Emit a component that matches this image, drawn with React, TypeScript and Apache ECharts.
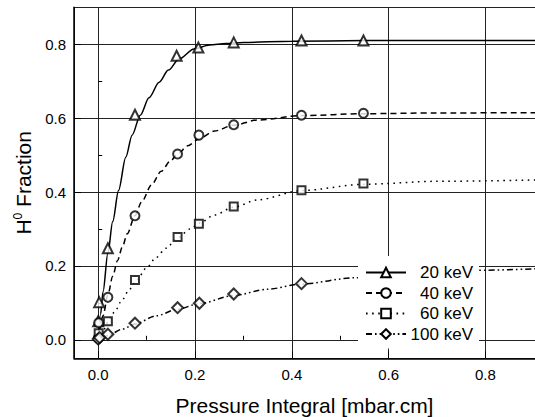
import React, { useEffect, useRef } from "react";
import * as echarts from "echarts";

const FONT = '"Liberation Sans", Arial, Helvetica, sans-serif';

const seriesNames = ["20 keV", "40 keV", "60 keV", "100 keV"];
const minorTickValues = [0.1, 0.3, 0.5, 0.7];

// measured points [pressure integral, H0 fraction]
const meas20 = [[0.0, 0.05], [0.002, 0.102], [0.02, 0.248], [0.076, 0.609], [0.162, 0.769], [0.207, 0.791], [0.28, 0.805], [0.42, 0.81], [0.548, 0.81]];
const meas40 = [[0.0, 0.004], [0.001, 0.046], [0.02, 0.115], [0.076, 0.336], [0.164, 0.503], [0.208, 0.554], [0.28, 0.582], [0.42, 0.608], [0.548, 0.613]];
const meas60 = [[0.001, 0.018], [0.02, 0.05], [0.076, 0.162], [0.164, 0.278], [0.208, 0.314], [0.28, 0.361], [0.42, 0.405], [0.548, 0.423]];
const meas100 = [[0.0, 0.002], [0.003, 0.006], [0.02, 0.015], [0.076, 0.045], [0.164, 0.087], [0.209, 0.099], [0.28, 0.124], [0.42, 0.152]];

// fitted curves
const fitX20 = [0, 0.005, 0.01, 0.02, 0.03, 0.042, 0.057, 0.07, 0.087, 0.105, 0.126, 0.145, 0.167, 0.198, 0.23, 0.264, 0.3, 0.4, 0.55, 0.7, 0.92];
const fitY20 = [0, 0.07, 0.13, 0.235, 0.32, 0.404, 0.494, 0.554, 0.608, 0.655, 0.697, 0.73, 0.76, 0.787, 0.798, 0.802, 0.805, 0.808, 0.81, 0.81, 0.81];
const fitX40 = [0, 0.01, 0.02, 0.03, 0.04, 0.05, 0.06, 0.076, 0.09, 0.11, 0.13, 0.15, 0.164, 0.185, 0.207, 0.24, 0.28, 0.33, 0.42, 0.55, 0.7, 0.92];
const fitY40 = [0, 0.065, 0.122, 0.172, 0.215, 0.252, 0.287, 0.336, 0.374, 0.419, 0.456, 0.485, 0.503, 0.525, 0.543, 0.565, 0.581, 0.595, 0.607, 0.612, 0.614, 0.615];
const fitX60 = [0, 0.01, 0.02, 0.033, 0.05, 0.064, 0.08, 0.1, 0.12, 0.14, 0.164, 0.19, 0.21, 0.24, 0.28, 0.33, 0.42, 0.55, 0.7, 0.92];
const fitY60 = [0, 0.024, 0.047, 0.074, 0.109, 0.136, 0.163, 0.195, 0.223, 0.248, 0.276, 0.3, 0.316, 0.338, 0.359, 0.379, 0.404, 0.421, 0.429, 0.433];
const fitX100 = [0, 0.02, 0.05, 0.076, 0.12, 0.164, 0.209, 0.28, 0.35, 0.42, 0.53, 0.65, 0.78, 0.92];
const fitY100 = [0, 0.012, 0.029, 0.043, 0.065, 0.083, 0.098, 0.12, 0.137, 0.151, 0.168, 0.18, 0.188, 0.193];

const zip = (xs: number[], ys: number[]) => xs.map((x, i) => [x, ys[i]]);

export default function App() {
  const ref = useRef<HTMLDivElement>(null);

  useEffect(() => {
    if (!ref.current) return;
    const chart = echarts.init(ref.current, null, { renderer: "svg" });

    const fits = [zip(fitX20, fitY20), zip(fitX40, fitY40), zip(fitX60, fitY60), zip(fitX100, fitY100)];
    const meas = [meas20, meas40, meas60, meas100];
    const symbols = ["emptyTriangle", "emptyCircle", "emptyRect", "emptyDiamond"];
    const symSizes = [10, 9, 8, 11];
    const dashTypes: any[] = ["solid", [6, 4], [1.6, 4.5], [6, 3, 1.6, 3, 1.6, 3]];

    const series: any[] = [];
    seriesNames.forEach((name, i) => {
      series.push({
        type: "line",
        name,
        data: fits[i],
        smooth: 0.3,
        smoothMonotone: "x",
        showSymbol: false,
        symbol: symbols[i],
        symbolSize: symSizes[i],
        color: "#000",
        itemStyle: { color: "#000", borderWidth: 1 },
        lineStyle: { color: "#000", width: 1.5, type: dashTypes[i] },
        z: 2,
        silent: true,
      });
    });
    seriesNames.forEach((name, i) => {
      series.push({
        type: "scatter",
        name: name + " data",
        data: meas[i],
        symbol: symbols[i],
        symbolSize: symSizes[i],
        itemStyle: { color: "#000", borderWidth: 1 },
        z: 3,
        silent: true,
      });
    });

    const option: any = {
      animation: false,
      backgroundColor: "#fff",
      textStyle: { fontFamily: FONT },
      grid: { left: 74, top: 7.3, width: 484, height: 351, containLabel: false, outerBoundsMode: "none" },
      legend: {
        data: seriesNames,
        orient: "vertical",
        left: 358,
        top: 256,
        backgroundColor: "#fff",
        padding: [8, 6, 6, 7],
        itemWidth: 40,
        itemHeight: 12,
        itemGap: 3.5,
        selectedMode: false,
        formatter: (n: string) => `{t|${n}}`,
        textStyle: {
          color: "#000",
          fontSize: 17,
          fontFamily: FONT,
          rich: { t: { width: 62, align: "right", fontSize: 17, lineHeight: 17, fontFamily: FONT, color: "#000" } },
        },
      },
      xAxis: [
        {
          type: "value",
          min: -0.05,
          max: 0.95,
          position: "bottom",
          name: "Pressure Integral [mbar.cm]",
          nameLocation: "middle",
          nameGap: 37,
          nameTextStyle: { fontSize: 21, color: "#000", fontFamily: FONT, padding: [0, 23, 0, 0] },
          axisLine: { show: true, onZero: false, lineStyle: { color: "#000", width: 1.5 } },
          axisTick: { show: true, inside: true, length: 7, lineStyle: { color: "#000", width: 1 } },
          axisLabel: {
            show: true,
            showMinLabel: false,
            showMaxLabel: false,
            margin: 9,
            fontSize: 15,
            color: "#000",
            fontFamily: FONT,
            formatter: (v: number) => v.toFixed(1),
          },
          splitLine: { show: true, lineStyle: { color: "#222", width: 1 } },
        },
        {
          type: "value",
          min: -0.05,
          max: 0.95,
          position: "bottom",
          axisLine: { show: false },
          axisLabel: { show: false },
          splitLine: { show: false },
          axisTick: { show: true, inside: true, length: 4, customValues: minorTickValues, lineStyle: { color: "#000", width: 1 } },
        },
      ],
      yAxis: [
        {
          type: "value",
          min: -0.05,
          max: 0.9,
          position: "left",
          name: "{n|H}{s|0}{n| Fraction}",
          nameLocation: "middle",
          nameGap: 40,
          nameTextStyle: {
            color: "#000",
            fontFamily: FONT,
            fontSize: 21,
            rich: {
              n: { fontSize: 21, fontFamily: FONT, color: "#000", lineHeight: 22 },
              s: { fontSize: 12, fontFamily: FONT, color: "#000", verticalAlign: "top", lineHeight: 22 },
            },
          },
          axisLine: { show: true, onZero: false, lineStyle: { color: "#000", width: 1.5 } },
          axisTick: { show: true, inside: true, length: 7, lineStyle: { color: "#000", width: 1 } },
          axisLabel: {
            show: true,
            showMinLabel: false,
            showMaxLabel: false,
            margin: 8,
            fontSize: 15,
            color: "#000",
            fontFamily: FONT,
            formatter: (v: number) => v.toFixed(1),
          },
          splitLine: { show: true, lineStyle: { color: "#222", width: 1 } },
        },
        {
          type: "value",
          min: -0.05,
          max: 0.9,
          position: "left",
          axisLine: { show: false },
          axisLabel: { show: false },
          splitLine: { show: false },
          axisTick: { show: true, inside: true, length: 4, customValues: minorTickValues, lineStyle: { color: "#000", width: 1 } },
        },
      ],
      series,
    };

    chart.setOption(option);
    return () => chart.dispose();
  }, []);

  return (
    <div
      ref={ref}
      style={{ position: "fixed", left: 0, top: 0, width: 535, height: 417, background: "#fff" }}
    />
  );
}
